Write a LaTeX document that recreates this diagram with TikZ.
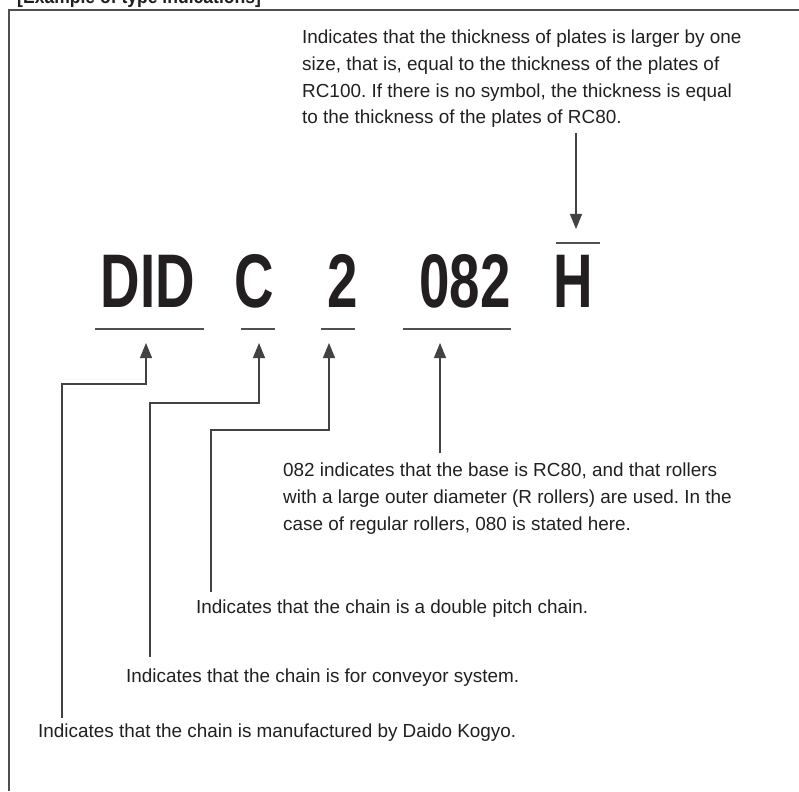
\documentclass[tikz,border=0pt]{standalone}
\usepackage{fontspec}
\setmainfont{Liberation Sans}
\newfontfamily\codefont{Liberation Sans}[FakeStretch=0.72]
\newfontfamily\headfont{Liberation Sans}[FakeStretch=0.9]
\usetikzlibrary{arrows.meta}
\definecolor{ink}{HTML}{231F20}
\definecolor{rulegray}{HTML}{505050}
\frenchspacing

\begin{document}
\begin{tikzpicture}[x=1pt, y=-1pt,
  note/.style={anchor=base west, inner sep=0pt, align=left, text=ink,
    font=\fontsize{18.9}{26.7}\selectfont},
  code/.style={anchor=base, inner sep=0pt, text=ink,
    font=\codefont\bfseries\fontsize{76}{80}\selectfont},
  conn/.style={draw=ink!85, line width=1.2pt},
  tip/.style={-{Triangle[width=12pt,length=15pt]}},
  uline/.style={draw=rulegray, line width=1.5pt}]
\useasboundingbox (0,0) rectangle (799,791);

% Frame and heading (heading cut by the top edge, as printed)
\draw[uline] (9,791) -- (9,10) -- (799,10);
\begin{scope}
\clip (0,0) rectangle (799,791);
\node[anchor=base west, inner sep=0pt, text=ink,
  font=\headfont\bfseries\fontsize{19.5}{22}\selectfont] (head) at (17,4) {[Example of type indications]};
\end{scope}

% Type code
\node[code] (tDID) at (148,307) {DID};
\node[code] (tC) at (254.5,307) {C};
\node[code] (t2) at (342.5,307) {2};
\node[code] (t082) at (465,307) {082};
\node[code] (tH) at (573,307) {H};

% Under- and overlines
\draw[uline] (95,329) -- (204,329);
\draw[uline] (241,329) -- (275,329);
\draw[uline] (321,329) -- (355,329);
\draw[uline] (403,329) -- (511,329);
\draw[uline] (556,243) -- (600,243);

% Notes (base = last line)
\node[note] (nThick) at (302,124) {Indicates that the thickness of plates is larger by one\\
size, that is, equal to the thickness of the plates of\\
RC100. If there is no symbol, the thickness is equal\\
to the thickness of the plates of RC80.};
\node[note] (nBase) at (283,530) {082 indicates that the base is RC80, and that rollers\\
with a large outer diameter (R rollers) are used. In the\\
case of regular rollers, 080 is stated here.};
\node[note] (nPitch) at (196,613) {Indicates that the chain is a double pitch chain.};
\node[note] (nConv) at (126,682) {Indicates that the chain is for conveyor system.};
\node[note] (nDaido) at (38,737) {Indicates that the chain is manufactured by Daido Kogyo.};

% Arrow tips, bends and free ends
\coordinate (aH) at (576,229);
\coordinate (aDID) at (146,343);
\coordinate (aC) at (259,343);
\coordinate (a2) at (329,343);
\coordinate (aBase) at (440,343);
\coordinate (kDID) at (146,384);
\coordinate (kC) at (259,403);
\coordinate (k2) at (329,430);
\coordinate (eThick) at (576,133);
\coordinate (eBase) at (440,453);
\coordinate (ePitch) at (211,592);
\coordinate (eConv) at (150,657);
\coordinate (eDaido) at (62,718);

% Leaders
\draw[conn, tip] (eThick) -- (aH);
\draw[conn, tip] (eBase) -- (aBase);
\draw[conn, tip] (ePitch) |- (k2) -- (a2);
\draw[conn, tip] (eConv) |- (kC) -- (aC);
\draw[conn, tip] (eDaido) |- (kDID) -- (aDID);

\end{tikzpicture}
\end{document}
